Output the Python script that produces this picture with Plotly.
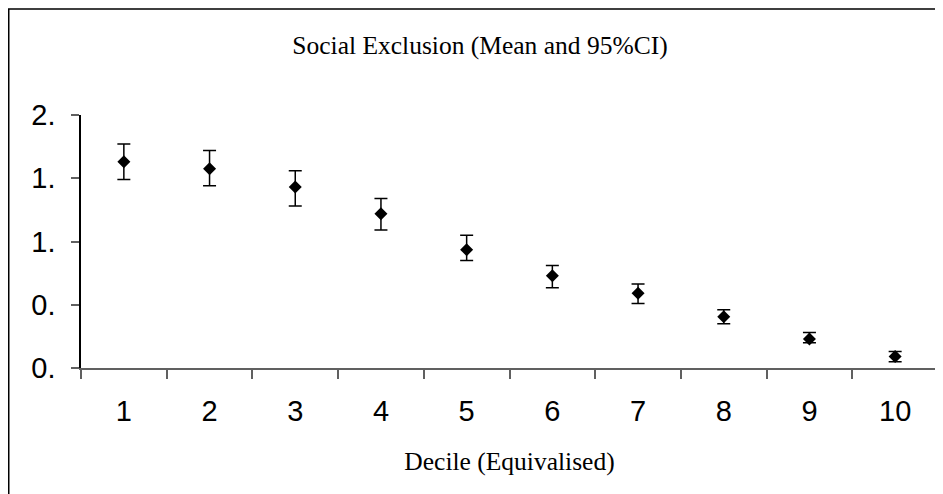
import plotly.graph_objects as go

deciles = ["1", "2", "3", "4", "5", "6", "7", "8", "9", "10"]
mean = [1.63, 1.575, 1.43, 1.22, 0.935, 0.73, 0.59, 0.405, 0.23, 0.09]
upper = [1.77, 1.72, 1.56, 1.34, 1.05, 0.81, 0.665, 0.46, 0.28, 0.13]
lower = [1.49, 1.44, 1.28, 1.09, 0.85, 0.635, 0.51, 0.35, 0.2, 0.05]
ytick_vals = [0, 0.5, 1.0, 1.5, 2.0]
ytick_text = ["0.", "0.", "1.", "1.", "2."]

err_plus = [u - m for u, m in zip(upper, mean)]
err_minus = [m - l for m, l in zip(mean, lower)]

fig = go.Figure()
fig.add_trace(go.Scatter(
    x=deciles, y=mean, mode="markers",
    marker=dict(symbol="diamond", size=10, color="black"),
    error_y=dict(type="data", array=err_plus, arrayminus=err_minus,
                 color="black", thickness=1.5, width=6.5, visible=True),
    showlegend=False,
))

# page has an 8px body margin, so the figure is drawn 8px in from the window edge
W, H = 935, 486
L, R, T, B = 73, 5, 107, 126
pw, ph = W - L - R, H - T - B

def px(x):
    return (x - L) / pw

def py(y):
    return (H - B - y) / ph

fig.update_layout(
    width=W, height=H,
    margin=dict(l=L, r=R, t=T, b=B, pad=0, autoexpand=False),
    paper_bgcolor="white", plot_bgcolor="white",
    title=dict(text="Social Exclusion (Mean and 95%CI)",
               font=dict(family="Liberation Serif", size=25.5, color="black"),
               x=472 / W, xanchor="center", y=1 - 37 / H, yanchor="middle"),
    xaxis=dict(type="category", range=[-0.5, 9.5], showgrid=False,
               automargin=False,
               showline=True, linecolor="#606060", linewidth=1.5,
               ticks="outside", tickson="boundaries", ticklen=9,
               tickcolor="#606060", tickwidth=1.5,
               tickfont=dict(family="Liberation Sans", size=29, color="black"),
               ticklabelstandoff=16,
               title=dict(text="Decile (Equivalised)",
                          font=dict(family="Liberation Serif", size=25.5, color="black"),
                          standoff=27),
               zeroline=False),
    yaxis=dict(range=[0, 2.0], showgrid=False, zeroline=False,
               automargin=False,
               showline=True, linecolor="black", linewidth=1.5,
               ticks="outside", ticklen=8, tickcolor="#606060", tickwidth=1.5,
               tickvals=ytick_vals, ticktext=ytick_text,
               tickfont=dict(family="Liberation Sans", size=29, color="black"),
               ticklabelstandoff=10),
    shapes=[dict(type="rect", xref="paper", yref="paper",
                 x0=px(0.75), x1=px(W + 10), y0=py(H + 10), y1=py(1),
                 line=dict(color="black", width=1.5), fillcolor="rgba(0,0,0,0)",
                 layer="above")],
)

fig.write_html("out.html")
